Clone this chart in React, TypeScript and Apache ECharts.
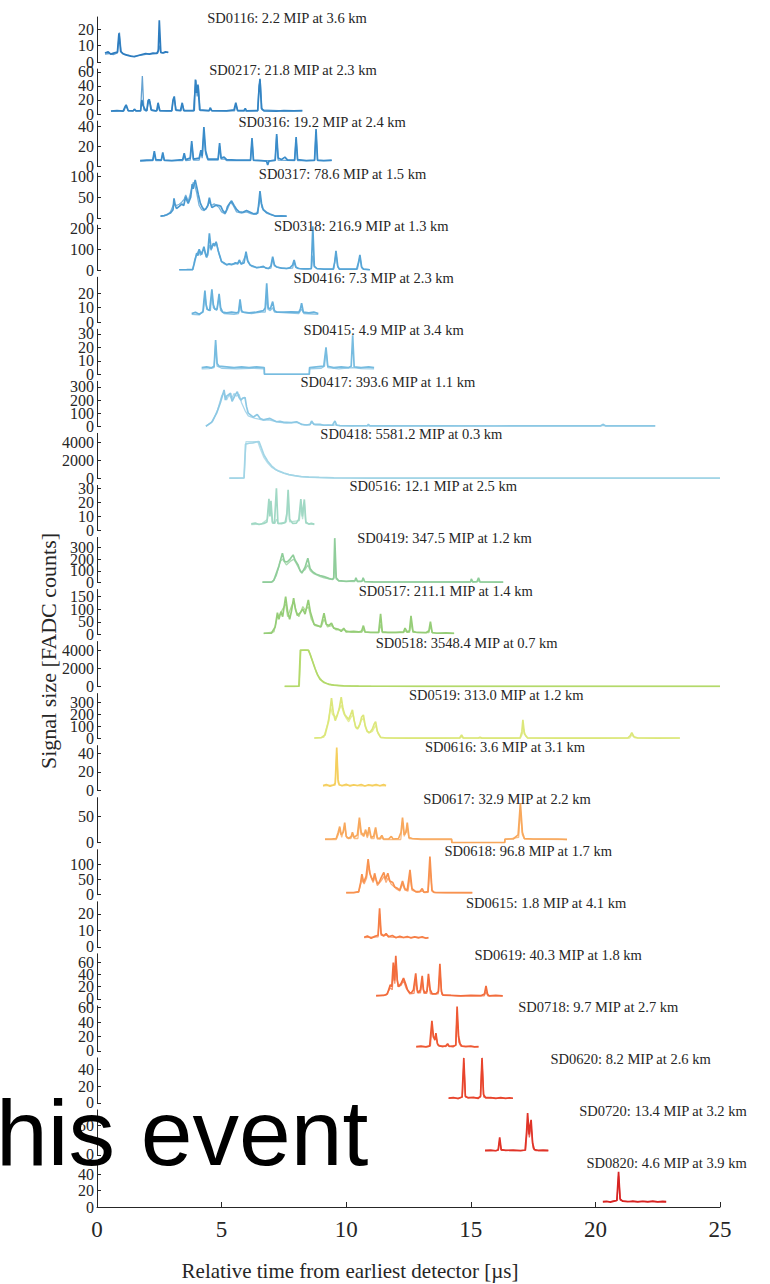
import React, { useEffect, useRef } from "react";
import * as echarts from "echarts";

// ---------- panel metadata ----------
const DETECTORS = ["SD0116", "SD0217", "SD0316", "SD0317", "SD0318", "SD0416", "SD0415", "SD0417", "SD0418", "SD0516", "SD0419", "SD0517", "SD0518", "SD0519", "SD0616", "SD0617", "SD0618", "SD0615", "SD0619", "SD0718", "SD0620", "SD0720", "SD0820"];
const MIP = [2.2, 21.8, 19.2, 78.6, 216.9, 7.3, 4.9, 393.6, 5581.2, 12.1, 347.5, 211.1, 3548.4, 313.0, 3.6, 32.9, 96.8, 1.8, 40.3, 9.7, 8.2, 13.4, 4.6];
const DIST_KM = [3.6, 2.3, 2.4, 1.5, 1.3, 2.3, 3.4, 1.1, 0.3, 2.5, 1.2, 1.4, 0.7, 1.2, 3.1, 2.2, 1.7, 4.1, 1.8, 2.7, 2.6, 3.2, 3.9];
const Y_MAX = [27.5, 64, 45, 107, 215, 31, 33.5, 343, 5000, 32, 385, 177, 5000, 375, 48, 86, 147, 27.3, 74, 62.5, 54, 77, 55];
const Y_TICKS = [[0, 10, 20], [0, 20, 40, 60], [0, 20, 40], [0, 50, 100], [0, 100, 200], [0, 10, 20], [0, 10, 20, 30], [0, 100, 200, 300], [0, 2000, 4000], [0, 10, 20, 30], [0, 100, 200, 300], [0, 50, 100, 150], [0, 2000, 4000], [0, 100, 200, 300], [0, 20, 40], [0, 50], [0, 50, 100], [0, 10, 20], [0, 20, 40, 60], [0, 20, 40, 60], [0, 20, 40], [0, 50], [0, 20, 40]];
const X_MIN = 0;
const X_MAX = 25;
const X_INTERVAL = 5;
const X_NAME = "Relative time from earliest detector [\u00b5s]";
const Y_NAME = "Signal size [FADC counts]";
const OVERLAY_TEXT = "his event";

// ---------- traces: [time µs, FADC counts], upper (A) and lower (B) layer ----------
const SD0116_A = [[0.32, 5.5], [0.45, 6.2], [0.55, 4.8], [0.7, 5.6], [0.82, 6], [0.88, 17.5], [0.95, 6.5], [1.05, 5], [1.2, 4.2], [1.35, 3.5], [1.5, 3.2], [1.65, 4], [1.8, 4.6], [1.95, 5.2], [2.1, 4.8], [2.25, 5.4], [2.4, 5.2], [2.46, 7], [2.5, 25.5], [2.56, 6], [2.65, 5.5], [2.75, 6.2], [2.86, 5.8]];
const SD0116_B = [[0.32, 4.8], [0.5, 5.2], [0.65, 4.5], [0.82, 5.5], [0.9, 18], [0.97, 6], [1.1, 4.5], [1.3, 4], [1.45, 3.5], [1.6, 3.8], [1.8, 4.2], [2.0, 4.8], [2.2, 5], [2.44, 5.5], [2.5, 10], [2.56, 5.6], [2.7, 5.8], [2.86, 6]];
const SD0217_A = [[0.56, 4.3], [0.8, 4.8], [1.05, 4.2], [1.12, 10], [1.17, 13], [1.25, 5], [1.45, 4.5], [1.5, 7], [1.56, 4.5], [1.75, 4.5], [1.8, 20], [1.85, 12], [1.95, 5], [2.0, 5], [2.05, 19], [2.1, 21], [2.17, 6], [2.35, 4.6], [2.4, 4.8], [2.45, 16], [2.52, 5], [2.8, 4.5], [3.0, 4.5], [3.05, 20], [3.1, 25], [3.16, 6], [3.35, 5], [3.42, 16], [3.48, 5], [3.85, 5], [3.9, 5], [3.95, 49], [4.0, 30], [4.05, 42], [4.12, 6], [4.5, 5], [4.55, 9], [4.6, 4.8], [5.2, 4.5], [5.5, 6], [5.57, 16], [5.64, 5], [5.9, 5], [5.95, 8], [6.0, 4.5], [6.45, 5], [6.5, 35], [6.54, 50], [6.6, 8], [6.7, 4.5], [7.2, 4.2], [7.5, 5], [7.9, 4.5], [8.24, 4.8]];
const SD0217_B = [[0.56, 4], [0.9, 4.5], [1.08, 4.5], [1.12, 8], [1.17, 12], [1.25, 4.5], [1.45, 4.5], [1.5, 6], [1.6, 4.5], [1.75, 5], [1.82, 54], [1.88, 6], [2.0, 5], [2.05, 15], [2.12, 18], [2.2, 5], [2.4, 4.5], [2.45, 12], [2.52, 4.5], [3.0, 4.5], [3.05, 18], [3.1, 22], [3.18, 5], [3.37, 4.5], [3.42, 14], [3.5, 4.5], [3.87, 4.5], [3.92, 30], [3.97, 48], [4.02, 25], [4.07, 40], [4.14, 5], [4.5, 4.5], [4.55, 7], [4.62, 4.5], [5.52, 4.5], [5.57, 14], [5.65, 4.5], [6.45, 4.5], [6.5, 40], [6.55, 48], [6.62, 6], [7.5, 4.5], [8.24, 4.5]];
const SD0316_A = [[1.73, 5.4], [2.0, 6], [2.24, 6], [2.3, 15], [2.36, 6.5], [2.58, 6], [2.64, 13.8], [2.7, 6], [3.0, 5.5], [3.44, 6.5], [3.5, 13], [3.56, 6.5], [3.74, 8], [3.8, 25], [3.87, 7], [4.1, 8], [4.17, 16], [4.22, 10], [4.29, 39], [4.36, 15], [4.45, 7], [4.86, 7], [4.92, 23], [4.98, 8], [5.1, 9], [5.2, 6.5], [5.6, 6], [6.16, 6], [6.22, 28], [6.28, 6], [6.6, 5.5], [6.8, 5], [6.85, 1], [6.9, 5], [7.15, 6], [7.21, 32], [7.27, 8], [7.4, 6.5], [7.54, 9], [7.65, 6], [7.93, 6], [7.99, 29], [8.05, 6.5], [8.4, 5.5], [8.73, 6], [8.79, 37], [8.85, 6], [9.1, 5.5], [9.42, 6]];
const SD0316_B = [[1.73, 5], [2.24, 5.5], [2.3, 13], [2.36, 5.5], [2.58, 5.5], [2.64, 12], [2.7, 5.5], [3.44, 5.5], [3.5, 11], [3.56, 5.5], [3.74, 6], [3.8, 22], [3.87, 6], [4.1, 6], [4.17, 14], [4.22, 8], [4.29, 33], [4.36, 12], [4.45, 6], [4.86, 6], [4.92, 20], [4.98, 7], [5.12, 7], [5.2, 5.5], [6.16, 5.5], [6.22, 25], [6.28, 5.5], [7.15, 5.5], [7.21, 30], [7.27, 6], [7.93, 5.5], [7.99, 27], [8.05, 5.5], [8.73, 5.5], [8.79, 33], [8.85, 5.5], [9.42, 5.5]];
const SD0317_A = [[2.55, 5], [2.7, 6], [2.79, 8], [2.95, 12], [3.05, 20], [3.09, 47], [3.14, 30], [3.19, 23], [3.3, 28], [3.4, 33.5], [3.48, 30], [3.56, 51], [3.62, 40], [3.66, 35], [3.76, 50], [3.82, 81], [3.86, 70], [3.94, 91], [4.0, 75], [4.07, 55], [4.15, 35], [4.23, 25], [4.3, 20], [4.37, 22], [4.45, 30], [4.51, 48.5], [4.56, 35], [4.61, 25], [4.7, 28], [4.8, 31], [4.9, 30], [4.97, 28], [5.05, 18], [5.14, 12], [5.2, 20], [5.24, 28], [5.32, 35], [5.4, 41], [5.5, 30], [5.61, 20], [5.71, 15], [5.85, 14], [6.0, 18], [6.15, 14], [6.3, 10], [6.45, 12], [6.5, 40], [6.54, 64.5], [6.6, 35], [6.67, 20], [6.8, 14], [6.94, 10], [7.14, 5], [7.4, 5.5], [7.61, 5]];
const SD0317_B = [[2.55, 4.5], [2.8, 7], [2.95, 15], [3.09, 35], [3.19, 30], [3.3, 33], [3.4, 38], [3.5, 45], [3.56, 55], [3.66, 40], [3.8, 70], [3.86, 85], [3.92, 80], [4.0, 60], [4.1, 30], [4.2, 20], [4.3, 18], [4.4, 25], [4.5, 38], [4.6, 30], [4.7, 34], [4.8, 30], [4.9, 25], [5.0, 15], [5.14, 10], [5.24, 22], [5.35, 38], [5.45, 32], [5.6, 15], [5.8, 12], [6.0, 15], [6.2, 10], [6.4, 9], [6.5, 30], [6.55, 50], [6.62, 25], [6.8, 12], [7.0, 8], [7.2, 5], [7.61, 4.5]];
const SD0318_A = [[3.3, 2], [3.6, 2.5], [3.84, 3], [3.9, 30], [4.0, 81], [4.05, 70], [4.1, 100], [4.15, 85], [4.2, 75], [4.29, 112], [4.35, 80], [4.4, 60], [4.45, 90], [4.51, 176], [4.58, 100], [4.67, 129], [4.72, 115], [4.78, 136], [4.87, 90], [4.95, 60], [5.0, 40], [5.1, 35], [5.2, 25], [5.3, 30], [5.4, 28], [5.47, 30], [5.55, 35], [5.65, 30], [5.71, 49], [5.78, 30], [5.9, 35], [5.98, 88], [6.05, 45], [6.14, 25], [6.25, 20], [6.41, 12], [6.55, 15], [6.68, 18], [6.78, 10], [6.88, 8], [6.98, 20], [7.05, 65], [7.12, 25], [7.21, 15], [7.4, 10], [7.61, 8], [7.75, 12], [7.85, 25], [7.91, 49], [7.98, 15], [8.08, 8], [8.3, 6], [8.48, 6], [8.6, 8], [8.66, 210], [8.72, 20], [8.82, 8], [9.1, 5], [9.48, 5], [9.54, 40], [9.59, 92], [9.66, 20], [9.72, 5], [10.1, 5], [10.42, 5], [10.5, 40], [10.55, 73], [10.62, 15], [10.69, 5], [10.95, 2]];
const SD0318_B = [[3.3, 2], [3.84, 2.5], [3.92, 50], [4.0, 75], [4.08, 95], [4.15, 70], [4.22, 90], [4.3, 100], [4.38, 65], [4.45, 70], [4.51, 120], [4.58, 95], [4.65, 120], [4.72, 125], [4.8, 128], [4.88, 85], [4.98, 45], [5.1, 30], [5.25, 28], [5.4, 25], [5.55, 30], [5.71, 40], [5.8, 28], [5.98, 75], [6.05, 40], [6.2, 18], [6.4, 12], [6.68, 15], [6.88, 8], [6.98, 10], [7.05, 55], [7.12, 20], [7.3, 12], [7.6, 8], [7.85, 10], [7.91, 40], [7.98, 12], [8.2, 6], [8.6, 6], [8.66, 70], [8.72, 15], [8.85, 6], [9.5, 5], [9.59, 80], [9.66, 15], [9.75, 5], [10.45, 5], [10.55, 65], [10.62, 12], [10.7, 5], [10.95, 2]];
const SD0416_A = [[3.8, 6], [3.95, 6.8], [4.1, 5.5], [4.25, 7], [4.33, 21.8], [4.38, 12], [4.43, 9], [4.52, 8], [4.61, 22.7], [4.67, 12], [4.73, 9], [4.82, 9], [4.9, 19.5], [4.96, 10], [5.04, 7], [5.2, 6.5], [5.4, 7], [5.6, 6.5], [5.68, 7], [5.74, 15.8], [5.8, 8], [5.87, 7], [6.1, 6.5], [6.4, 7], [6.68, 8], [6.75, 10], [6.81, 26.9], [6.87, 10], [6.95, 9], [7.05, 14.2], [7.12, 8], [7.21, 7], [7.5, 7], [7.8, 7.2], [8.1, 7], [8.16, 9], [8.21, 13.1], [8.28, 7], [8.5, 6.5], [8.7, 7], [8.88, 6]];
const SD0416_B = [[3.8, 5.5], [4.1, 5], [4.27, 8], [4.33, 19], [4.4, 9], [4.55, 8], [4.61, 20], [4.67, 10], [4.8, 8], [4.9, 17], [4.96, 8], [5.1, 6], [5.5, 5.5], [5.68, 6], [5.74, 13], [5.8, 7], [6.2, 6], [6.6, 7], [6.75, 7], [6.81, 17], [6.86, 9], [6.95, 8], [7.05, 10], [7.12, 7], [7.6, 6.5], [8.1, 6], [8.21, 9], [8.3, 6], [8.88, 5.5]];
const SD0415_A = [[4.2, 5], [4.4, 5.5], [4.6, 4.8], [4.7, 6], [4.76, 25.5], [4.82, 8], [4.9, 6], [5.2, 5.5], [5.5, 5], [5.8, 5.5], [6.1, 5], [6.4, 5.5], [6.71, 5], [6.72, 0], [8.52, 0], [8.53, 5], [8.8, 5.5], [9.1, 6], [9.19, 20.1], [9.26, 6], [9.5, 5], [9.8, 5.5], [10.1, 5], [10.2, 6], [10.26, 29], [10.32, 5.5], [10.6, 5], [10.9, 5.5], [11.12, 5]];
const SD0415_B = [[4.2, 4], [4.5, 4.2], [4.7, 5], [4.76, 22], [4.82, 6], [5.0, 4.5], [5.6, 4], [6.2, 4.5], [6.71, 4], [6.72, 0], [8.52, 0], [8.53, 4], [9.0, 4.5], [9.13, 6], [9.19, 18], [9.26, 5], [9.7, 4], [10.26, 5], [10.6, 4.2], [11.12, 4]];
const SD0417_A = [[4.37, 0], [4.6, 30], [4.8, 100], [4.95, 180], [5.1, 277], [5.15, 200], [5.2, 230], [5.36, 252], [5.42, 190], [5.47, 210], [5.55, 240], [5.63, 264], [5.7, 220], [5.77, 200], [5.85, 215], [5.94, 220], [6.0, 150], [6.07, 100], [6.17, 85], [6.27, 70], [6.35, 80], [6.43, 90], [6.55, 60], [6.68, 50], [6.8, 55], [6.94, 60], [7.1, 45], [7.2, 35], [7.34, 38], [7.5, 30], [7.61, 30], [7.8, 28], [8.01, 35], [8.2, 15], [8.41, 10], [8.55, 15], [8.61, 40], [8.7, 15], [8.95, 15], [9.1, 8], [9.28, 10], [9.45, 8], [9.5, 25], [9.55, 40], [9.62, 8], [9.75, 5], [10.2, 4], [10.85, 5], [10.89, 15], [10.95, 4], [12, 3], [14, 3], [16, 2.5], [18, 3], [20.2, 3], [20.3, 15], [20.4, 4], [21, 3], [22.4, 3]];
const SD0417_B = [[4.37, 0], [4.65, 40], [4.85, 130], [5.0, 230], [5.1, 260], [5.2, 200], [5.3, 240], [5.4, 210], [5.5, 250], [5.6, 230], [5.7, 245], [5.8, 180], [5.94, 120], [6.07, 80], [6.2, 70], [6.35, 60], [6.5, 55], [6.68, 45], [6.9, 50], [7.1, 40], [7.34, 30], [7.6, 25], [8.01, 30], [8.3, 12], [8.55, 12], [8.61, 30], [8.75, 12], [9.2, 8], [9.5, 8], [9.55, 12], [9.75, 5], [11, 4], [15, 3], [20.22, 3], [20.3, 8], [20.45, 3], [22.4, 3]];
const SD0418_A = [[5.31, 30], [5.6, 30], [5.9, 40], [5.96, 3800], [6.1, 3900], [6.25, 3950], [6.4, 4050], [6.5, 4080], [6.58, 3500], [6.7, 2600], [6.85, 1900], [7.0, 1400], [7.14, 1050], [7.3, 800], [7.5, 600], [7.7, 420], [7.93, 300], [8.2, 200], [8.5, 140], [8.91, 100], [9.5, 60], [10.19, 40], [11, 30], [12, 25], [15, 22], [20, 20], [25, 20]];
const SD0418_B = [[5.31, 25], [5.9, 30], [5.98, 4080], [6.2, 4090], [6.45, 4080], [6.55, 3300], [6.7, 2300], [6.85, 1700], [7.0, 1250], [7.2, 900], [7.5, 550], [7.8, 350], [8.1, 230], [8.5, 150], [9.0, 90], [9.5, 55], [10.2, 35], [12, 25], [25, 20]];
const SD0516_A = [[6.19, 4.6], [6.35, 5.2], [6.5, 4.2], [6.7, 5], [6.82, 6], [6.9, 22.4], [6.94, 10], [6.98, 21], [7.04, 6], [7.12, 5], [7.2, 30], [7.26, 5], [7.4, 4.8], [7.55, 5.5], [7.62, 12], [7.67, 28.8], [7.73, 8], [7.85, 5], [8.0, 5.2], [8.1, 8], [8.18, 22.2], [8.24, 10], [8.32, 22], [8.38, 6], [8.5, 4.5], [8.6, 5], [8.72, 4.5]];
const SD0516_B = [[6.19, 4.2], [6.6, 4.6], [6.84, 8], [6.9, 18], [6.96, 20], [7.04, 5], [7.14, 5], [7.2, 8], [7.28, 4.8], [7.6, 6], [7.67, 22], [7.73, 6], [8.12, 7], [8.18, 18], [8.25, 8], [8.32, 20], [8.38, 5], [8.72, 4.2]];
const SD0419_A = [[6.64, 3], [7.0, 3], [7.1, 20], [7.2, 80], [7.3, 140], [7.44, 251], [7.52, 180], [7.63, 175], [7.75, 200], [7.87, 236], [7.95, 190], [8.07, 150], [8.15, 100], [8.22, 80], [8.35, 130], [8.46, 208], [8.55, 120], [8.66, 90], [8.8, 70], [8.95, 60], [9.11, 50], [9.3, 35], [9.45, 25], [9.5, 40], [9.54, 379], [9.6, 40], [9.7, 15], [10.0, 10], [10.35, 15], [10.39, 40], [10.45, 10], [10.64, 12], [10.68, 40], [10.74, 8], [11.08, 5], [12, 4], [13, 4], [14, 4], [15.0, 5], [15.02, 30], [15.08, 5], [15.25, 8], [15.31, 40], [15.37, 5], [16.3, 3]];
const SD0419_B = [[6.64, 3], [7.05, 5], [7.2, 60], [7.35, 180], [7.45, 200], [7.6, 150], [7.75, 180], [7.9, 200], [8.0, 160], [8.1, 120], [8.2, 90], [8.35, 110], [8.46, 150], [8.56, 100], [8.7, 75], [8.9, 55], [9.11, 40], [9.35, 28], [9.5, 30], [9.54, 150], [9.6, 30], [9.7, 12], [10.33, 8], [10.39, 25], [10.45, 8], [10.62, 8], [10.68, 30], [10.74, 6], [11.1, 4], [14.96, 4], [15.02, 15], [15.08, 4], [15.25, 4], [15.31, 15], [15.37, 4], [16.3, 3]];
const SD0517_A = [[6.69, 5], [7.0, 5], [7.15, 30], [7.24, 86], [7.3, 60], [7.38, 90], [7.45, 70], [7.57, 149], [7.65, 90], [7.73, 60], [7.8, 90], [7.89, 143], [7.96, 100], [8.04, 75], [8.15, 85], [8.26, 100], [8.35, 80], [8.48, 136], [8.56, 90], [8.71, 40], [8.85, 35], [8.98, 30], [9.11, 84], [9.2, 40], [9.3, 35], [9.41, 45], [9.5, 25], [9.7, 20], [9.8, 12], [9.9, 25], [10.0, 10], [10.3, 12], [10.5, 10], [10.62, 14], [10.69, 35], [10.76, 10], [10.98, 8], [11.3, 8], [11.38, 81], [11.45, 10], [11.67, 8], [12.0, 8], [12.3, 10], [12.36, 25], [12.45, 10], [12.54, 15], [12.6, 73], [12.68, 12], [12.85, 8], [13.2, 7], [13.32, 15], [13.38, 51], [13.45, 8], [13.64, 5], [14.0, 6], [14.33, 5]];
const SD0517_B = [[6.69, 4], [7.1, 10], [7.24, 70], [7.35, 80], [7.45, 100], [7.57, 120], [7.65, 70], [7.8, 110], [7.9, 130], [8.0, 90], [8.1, 70], [8.26, 110], [8.36, 95], [8.48, 110], [8.6, 60], [8.75, 35], [9.0, 30], [9.11, 60], [9.25, 30], [9.41, 35], [9.6, 18], [9.9, 18], [10.2, 8], [10.62, 8], [10.69, 20], [10.76, 8], [11.31, 7], [11.38, 40], [11.45, 7], [12.3, 7], [12.36, 15], [12.45, 8], [12.54, 8], [12.6, 45], [12.68, 8], [13.32, 7], [13.38, 35], [13.45, 6], [14.33, 4]];
const SD0518_A = [[7.53, 30], [7.9, 30], [8.1, 40], [8.16, 4050], [8.3, 4060], [8.48, 4050], [8.55, 3600], [8.65, 2800], [8.75, 2000], [8.85, 1300], [8.95, 800], [9.11, 450], [9.3, 250], [9.5, 150], [9.9, 80], [10.5, 50], [11.5, 35], [13, 30], [15, 28], [20, 28], [25, 28]];
const SD0518_B = [[7.53, 25], [8.12, 30], [8.18, 4000], [8.35, 4040], [8.5, 4000], [8.6, 3200], [8.7, 2400], [8.8, 1600], [8.9, 1100], [9.05, 600], [9.2, 350], [9.4, 200], [9.7, 110], [10.2, 60], [11, 40], [13, 30], [25, 25]];
const SD0519_A = [[8.72, 5], [9.0, 8], [9.15, 30], [9.3, 150], [9.41, 337], [9.48, 220], [9.56, 150], [9.65, 200], [9.72, 250], [9.8, 345], [9.87, 250], [9.94, 200], [10.02, 180], [10.1, 160], [10.18, 200], [10.25, 239], [10.32, 150], [10.38, 100], [10.45, 80], [10.55, 120], [10.62, 180], [10.69, 197], [10.76, 110], [10.84, 60], [10.95, 50], [11.05, 80], [11.12, 120], [11.18, 142], [11.25, 60], [11.38, 10], [11.6, 5], [12.5, 4], [13.5, 4], [14.55, 5], [14.63, 30], [14.7, 5], [15.3, 5], [15.37, 12], [15.45, 4], [16, 4], [16.98, 5], [17.05, 60], [17.09, 156], [17.15, 40], [17.28, 5], [18.5, 4], [20, 4], [21.3, 5], [21.4, 25], [21.46, 50], [21.55, 15], [21.7, 5], [22.5, 4], [23.39, 5]];
const SD0519_B = [[8.72, 4], [9.1, 10], [9.25, 120], [9.38, 260], [9.45, 200], [9.6, 180], [9.7, 230], [9.8, 280], [9.9, 210], [10.0, 170], [10.1, 140], [10.2, 180], [10.28, 200], [10.38, 90], [10.5, 90], [10.6, 150], [10.69, 170], [10.78, 90], [10.9, 45], [11.05, 60], [11.18, 110], [11.28, 40], [11.4, 8], [12, 4], [14.56, 4], [14.63, 15], [14.7, 4], [16.98, 4], [17.05, 30], [17.12, 80], [17.2, 20], [17.3, 4], [21.38, 5], [21.46, 30], [21.58, 6], [23.39, 4]];
const SD0616_A = [[9.07, 5.4], [9.2, 6.5], [9.35, 4.8], [9.5, 6], [9.56, 8], [9.62, 46], [9.67, 12], [9.72, 6], [9.85, 5.5], [10.0, 6.8], [10.15, 5], [10.3, 6.2], [10.45, 5.5], [10.6, 6.5], [10.75, 5], [10.9, 6.3], [11.05, 5.4], [11.2, 6.5], [11.35, 5.2], [11.5, 6.4], [11.6, 5.5]];
const SD0616_B = [[9.07, 5], [9.3, 5.5], [9.56, 6], [9.62, 40], [9.68, 8], [9.8, 5.2], [10.2, 5.8], [10.6, 5], [11.0, 5.6], [11.6, 5]];
const SD0617_A = [[9.15, 6.7], [9.4, 7], [9.6, 8], [9.68, 20], [9.74, 30.8], [9.8, 15], [9.88, 20], [9.94, 38.4], [10.0, 12], [10.1, 8], [10.2, 12], [10.25, 20], [10.32, 10], [10.45, 15], [10.53, 48], [10.6, 20], [10.7, 12], [10.78, 25], [10.85, 12], [10.92, 29.6], [11.0, 10], [11.1, 12], [11.18, 29], [11.25, 9], [11.35, 8], [11.43, 14], [11.5, 7], [11.7, 7], [11.81, 12], [11.88, 7], [12.1, 8], [12.2, 20], [12.26, 48], [12.33, 15], [12.4, 20], [12.45, 38.4], [12.52, 10], [12.65, 8], [13.0, 7], [13.5, 7], [14.0, 7], [14.23, 7], [14.24, 0], [16.36, 0], [16.37, 7], [16.7, 7], [16.9, 15], [16.99, 75.5], [17.07, 20], [17.15, 8], [17.5, 7], [18.0, 7], [18.5, 7], [18.86, 6.5]];
const SD0617_B = [[9.15, 6], [9.6, 6], [9.68, 15], [9.74, 25], [9.82, 10], [9.94, 32], [10.02, 9], [10.19, 8], [10.25, 15], [10.32, 8], [10.47, 8], [10.53, 40], [10.6, 15], [10.78, 20], [10.85, 9], [10.92, 25], [11.0, 8], [11.12, 8], [11.18, 24], [11.25, 7], [11.37, 7], [11.43, 10], [11.5, 6], [12.19, 6], [12.26, 40], [12.33, 12], [12.45, 30], [12.52, 8], [13, 6], [14.23, 6], [14.24, 0], [16.36, 0], [16.37, 6], [16.92, 10], [16.99, 60], [17.07, 15], [17.15, 7], [18.86, 6]];
const SD0618_A = [[10.0, 7], [10.3, 7], [10.5, 10], [10.58, 40], [10.63, 67], [10.7, 40], [10.8, 60], [10.88, 116], [10.95, 70], [11.02, 55], [11.08, 45], [11.14, 70], [11.2, 50], [11.26, 35], [11.32, 40], [11.4, 55], [11.51, 73], [11.58, 50], [11.67, 70], [11.75, 45], [11.87, 40], [11.95, 25], [12.07, 20], [12.15, 15], [12.26, 45], [12.35, 20], [12.45, 15], [12.56, 81], [12.64, 20], [12.79, 10], [12.95, 10], [13.05, 20], [13.12, 8], [13.28, 10], [13.36, 125], [13.44, 15], [13.52, 8], [14, 7], [14.5, 7], [15.06, 7]];
const SD0618_B = [[10.0, 6.5], [10.5, 8], [10.63, 50], [10.72, 35], [10.82, 55], [10.9, 95], [10.98, 60], [11.08, 40], [11.16, 60], [11.25, 30], [11.4, 45], [11.52, 60], [11.6, 40], [11.68, 55], [11.8, 35], [12.0, 20], [12.15, 12], [12.26, 35], [12.36, 15], [12.48, 12], [12.56, 60], [12.64, 15], [12.85, 8], [13.05, 12], [13.15, 7], [13.29, 8], [13.36, 90], [13.45, 10], [13.6, 7], [15.06, 6.5]];
const SD0615_A = [[10.72, 5.8], [10.85, 6.5], [11.0, 5.2], [11.15, 6.3], [11.28, 7], [11.34, 23.4], [11.4, 8], [11.5, 6.5], [11.6, 8], [11.7, 6], [11.85, 6.8], [12.0, 5.5], [12.15, 6.4], [12.3, 5.6], [12.45, 6.2], [12.6, 5.3], [12.75, 6], [12.9, 5.4], [13.05, 6.1], [13.2, 5.2], [13.3, 5.6]];
const SD0615_B = [[10.72, 5.5], [11.0, 5.8], [11.28, 6], [11.34, 20], [11.4, 7], [11.6, 7], [11.8, 5.8], [12.3, 5.5], [12.8, 5.8], [13.3, 5.2]];
const SD0619_A = [[11.2, 5.4], [11.5, 5.5], [11.65, 8], [11.77, 23], [11.83, 20], [11.89, 59.7], [11.94, 30], [11.99, 70.7], [12.05, 30], [12.1, 20], [12.2, 25], [12.3, 34], [12.38, 25], [12.46, 15], [12.55, 10], [12.62, 10], [12.7, 15], [12.79, 42], [12.85, 15], [12.89, 10], [12.98, 15], [13.05, 37.8], [13.1, 15], [13.15, 10], [13.24, 12], [13.3, 41], [13.37, 15], [13.45, 8], [13.6, 8], [13.7, 12], [13.76, 57.5], [13.82, 12], [13.88, 6], [14.2, 5.5], [14.6, 5], [15.0, 5.5], [15.4, 5.2], [15.55, 8], [15.61, 21.4], [15.67, 8], [15.73, 5], [16.0, 5.5], [16.28, 5]];
const SD0619_B = [[11.2, 5], [11.6, 6], [11.77, 18], [11.85, 15], [11.89, 45], [11.95, 25], [12.0, 55], [12.08, 20], [12.2, 22], [12.3, 30], [12.4, 18], [12.55, 8], [12.72, 9], [12.79, 30], [12.86, 10], [12.98, 10], [13.05, 28], [13.12, 9], [13.23, 9], [13.3, 30], [13.38, 8], [13.69, 8], [13.76, 45], [13.84, 7], [14.5, 5], [15.54, 5], [15.61, 12], [15.68, 5], [16.28, 5]];
const SD0718_A = [[12.81, 6], [13.0, 6.5], [13.2, 5.5], [13.35, 7], [13.44, 41.7], [13.5, 20], [13.56, 15], [13.6, 24.6], [13.66, 10], [13.72, 7], [13.85, 6], [14.0, 7], [14.07, 10], [14.13, 6.5], [14.3, 6], [14.4, 8], [14.45, 61.5], [14.51, 20], [14.57, 10], [14.65, 6.5], [14.8, 6], [15.0, 6.5], [15.15, 5.5], [15.31, 6]];
const SD0718_B = [[12.81, 5.5], [13.3, 6], [13.38, 7], [13.44, 35], [13.5, 18], [13.6, 20], [13.68, 8], [14.0, 6], [14.07, 8], [14.13, 6], [14.39, 8], [14.45, 50], [14.52, 12], [14.6, 6.5], [15.31, 5.5]];
const SD0620_A = [[14.11, 5.8], [14.3, 6.5], [14.5, 5.2], [14.65, 7], [14.72, 54], [14.78, 8], [14.9, 6], [15.1, 6.6], [15.3, 5.5], [15.39, 8], [15.45, 54], [15.51, 10], [15.6, 6], [15.8, 6.4], [16.0, 5.5], [16.2, 6.3], [16.4, 5.4], [16.55, 6.2], [16.69, 5.6]];
const SD0620_B = [[14.11, 5.5], [14.5, 5.8], [14.66, 7], [14.72, 48], [14.79, 7], [15.2, 6], [15.39, 7], [15.45, 50], [15.52, 7], [16.0, 5.8], [16.69, 5.5]];
const SD0720_A = [[15.57, 7.7], [15.8, 8.2], [16.0, 7.2], [16.1, 9], [16.16, 30], [16.22, 9], [16.4, 7.8], [16.7, 8.2], [17.0, 7.5], [17.18, 8.5], [17.24, 40], [17.28, 71.7], [17.34, 35], [17.38, 50], [17.42, 60], [17.48, 20], [17.55, 9], [17.7, 8], [17.9, 8.3], [18.11, 7.8]];
const SD0720_B = [[15.57, 7.2], [16.0, 7.5], [16.1, 8], [16.16, 25], [16.22, 8], [16.8, 7.5], [17.2, 8], [17.28, 55], [17.35, 30], [17.42, 50], [17.5, 12], [17.6, 7.5], [18.11, 7.2]];
const SD0820_A = [[20.3, 6.5], [20.45, 7], [20.6, 6], [20.75, 7.2], [20.86, 8], [20.93, 43], [20.99, 10], [21.1, 7], [21.3, 6.4], [21.5, 7.2], [21.7, 6.2], [21.9, 7], [22.1, 6.3], [22.3, 7.1], [22.5, 6.2], [22.7, 6.8], [22.84, 6.5]];
const SD0820_B = [[20.3, 6], [20.6, 6.5], [20.87, 8], [20.93, 38], [21.0, 8], [21.4, 6.5], [22.0, 6.8], [22.84, 6]];

const TRACES_A = [SD0116_A, SD0217_A, SD0316_A, SD0317_A, SD0318_A, SD0416_A, SD0415_A, SD0417_A, SD0418_A, SD0516_A, SD0419_A, SD0517_A, SD0518_A, SD0519_A, SD0616_A, SD0617_A, SD0618_A, SD0615_A, SD0619_A, SD0718_A, SD0620_A, SD0720_A, SD0820_A];
const TRACES_B = [SD0116_B, SD0217_B, SD0316_B, SD0317_B, SD0318_B, SD0416_B, SD0415_B, SD0417_B, SD0418_B, SD0516_B, SD0419_B, SD0517_B, SD0518_B, SD0519_B, SD0616_B, SD0617_B, SD0618_B, SD0615_B, SD0619_B, SD0718_B, SD0620_B, SD0720_B, SD0820_B];

// ---------- styles / layout ----------
const COLORS = ["#2d7cbf", "#3283c3", "#3a8cca", "#4a99d0", "#58a6d7", "#67b1dc", "#77bce0", "#8cc8e4", "#a2d5e6", "#a0d8c4", "#8fcd9a", "#95cd77", "#b3d96a", "#dce77a", "#f5cf5e", "#f8a85c", "#f8924f", "#f67e45", "#f26c3c", "#ee5833", "#e8442c", "#e03327", "#d72322"];
const AXIS_COLOR = "#262626";
const SERIF = "Liberation Serif";
const SANS = "Liberation Sans";
const PLOT_LEFT = 97;
const PLOT_RIGHT = 720;
const FIRST_BOTTOM = 62;
const LAST_BOTTOM = 1207;
const PANEL_H = 45;
const TITLE_SIZE = 14.5;
const TITLE_OFFSET = 182;
const TITLE_RIGHT_LIMIT = 747;
const Y_LABEL_SIZE = 16;
const Y_LABEL_GAP = 3;

function lighten(hex: string, f: number) {
  const n = parseInt(hex.slice(1), 16);
  const r = (n >> 16) & 255, g = (n >> 8) & 255, b = n & 255;
  const m = (c: number) => Math.round(c + (255 - c) * f);
  return `rgb(${m(r)},${m(g)},${m(b)})`;
}

export default function App() {
  const ref = useRef<HTMLDivElement>(null);
  useEffect(() => {
    if (!ref.current) return;
    const chart = echarts.init(ref.current, null, { renderer: "svg" });
    const n = DETECTORS.length;
    const step = (LAST_BOTTOM - FIRST_BOTTOM) / (n - 1);
    const plotW = PLOT_RIGHT - PLOT_LEFT;
    const xPix = (t: number) => PLOT_LEFT + ((t - X_MIN) / (X_MAX - X_MIN)) * plotW;

    const canvas = document.createElement("canvas");
    const ctx = canvas.getContext("2d")!;
    ctx.font = `${TITLE_SIZE}px "${SERIF}"`;

    const grids: any[] = [];
    const xAxes: any[] = [];
    const yAxes: any[] = [];
    const series: any[] = [];
    const graphics: any[] = [];

    for (let i = 0; i < n; i++) {
      const bottom = FIRST_BOTTOM + i * step;
      const top = bottom - PANEL_H;
      const last = i === n - 1;
      grids.push({ left: PLOT_LEFT, width: plotW, top, height: PANEL_H, containLabel: false });
      xAxes.push({
        type: "value", gridIndex: i, min: X_MIN, max: X_MAX, interval: X_INTERVAL, show: last,
        axisLine: { show: true, onZero: false, lineStyle: { color: AXIS_COLOR, width: 1 } },
        axisTick: { show: true, inside: true, length: 5, lineStyle: { color: AXIS_COLOR } },
        axisLabel: { show: true, fontFamily: SERIF, fontSize: 23, color: AXIS_COLOR, margin: 11, showMinLabel: true, showMaxLabel: true, formatter: (v: number) => String(v) },
        splitLine: { show: false },
      });
      yAxes.push({
        type: "value", gridIndex: i, min: 0, max: Y_MAX[i],
        axisLine: { show: true, onZero: false, lineStyle: { color: AXIS_COLOR, width: 1 } },
        axisTick: { show: true, inside: true, length: 4, customValues: Y_TICKS[i], lineStyle: { color: AXIS_COLOR } },
        axisLabel: { show: false },
        splitLine: { show: false },
      });
      series.push({
        type: "line", xAxisIndex: i, yAxisIndex: i, data: TRACES_B[i], showSymbol: false, symbol: "none",
        lineStyle: { color: lighten(COLORS[i], 0.25), width: 1.3 }, silent: true, z: 2,
      });
      series.push({
        type: "line", xAxisIndex: i, yAxisIndex: i, data: TRACES_A[i], showSymbol: false, symbol: "none",
        lineStyle: { color: COLORS[i], width: 1.7 }, silent: true, z: 3,
      });

      const title = `${DETECTORS[i]}: ${MIP[i].toFixed(1)} MIP at ${DIST_KM[i].toFixed(1)} km`;
      const w = ctx.measureText(title).width;
      let cx = xPix(TRACES_A[i][0][0]) + TITLE_OFFSET;
      if (cx + w / 2 > TITLE_RIGHT_LIMIT) cx = TITLE_RIGHT_LIMIT - w / 2;
      graphics.push({
        type: "text", x: cx, y: top + 1, z: 50,
        style: { text: title, fontFamily: SERIF, fontSize: TITLE_SIZE, fill: AXIS_COLOR, align: "center", verticalAlign: "middle" },
      });
    }

    chart.setOption({
      animation: false,
      backgroundColor: "#ffffff",
      textStyle: { fontFamily: SERIF },
      grid: grids,
      xAxis: xAxes,
      yAxis: yAxes,
      series,
    });

    // y tick labels placed with the library's own axis scales
    for (let i = 0; i < n; i++) {
      for (const v of Y_TICKS[i]) {
        const p = chart.convertToPixel({ gridIndex: i } as any, [X_MIN, v]) as number[];
        if (!p) continue;
        graphics.push({
          type: "text", x: p[0] - Y_LABEL_GAP, y: p[1], z: 40,
          style: { text: String(v), fontFamily: SERIF, fontSize: Y_LABEL_SIZE, fill: AXIS_COLOR, align: "right", verticalAlign: "middle" },
        });
      }
    }

    graphics.push({
      type: "text", x: 48, y: 651, rotation: Math.PI / 2, z: 50,
      style: { text: Y_NAME, fontFamily: SERIF, fontSize: 22, fill: AXIS_COLOR, align: "center", verticalAlign: "middle" },
    });
    graphics.push({
      type: "text", x: 350, y: 1271, z: 50,
      style: { text: X_NAME, fontFamily: SERIF, fontSize: 21, fill: AXIS_COLOR, align: "center", verticalAlign: "middle" },
    });
    graphics.push({
      type: "text", x: -4, y: 1133, z: 100,
      style: { text: OVERLAY_TEXT, fontFamily: SANS, fontSize: 93, fill: "#000", align: "left", verticalAlign: "middle" },
    });

    chart.setOption({ graphic: { elements: graphics } });
    return () => chart.dispose();
  }, []);
  return <div ref={ref} style={{ position: "absolute", left: 0, top: 0, width: 770, height: 1284, background: "#fff" }} />;
}
